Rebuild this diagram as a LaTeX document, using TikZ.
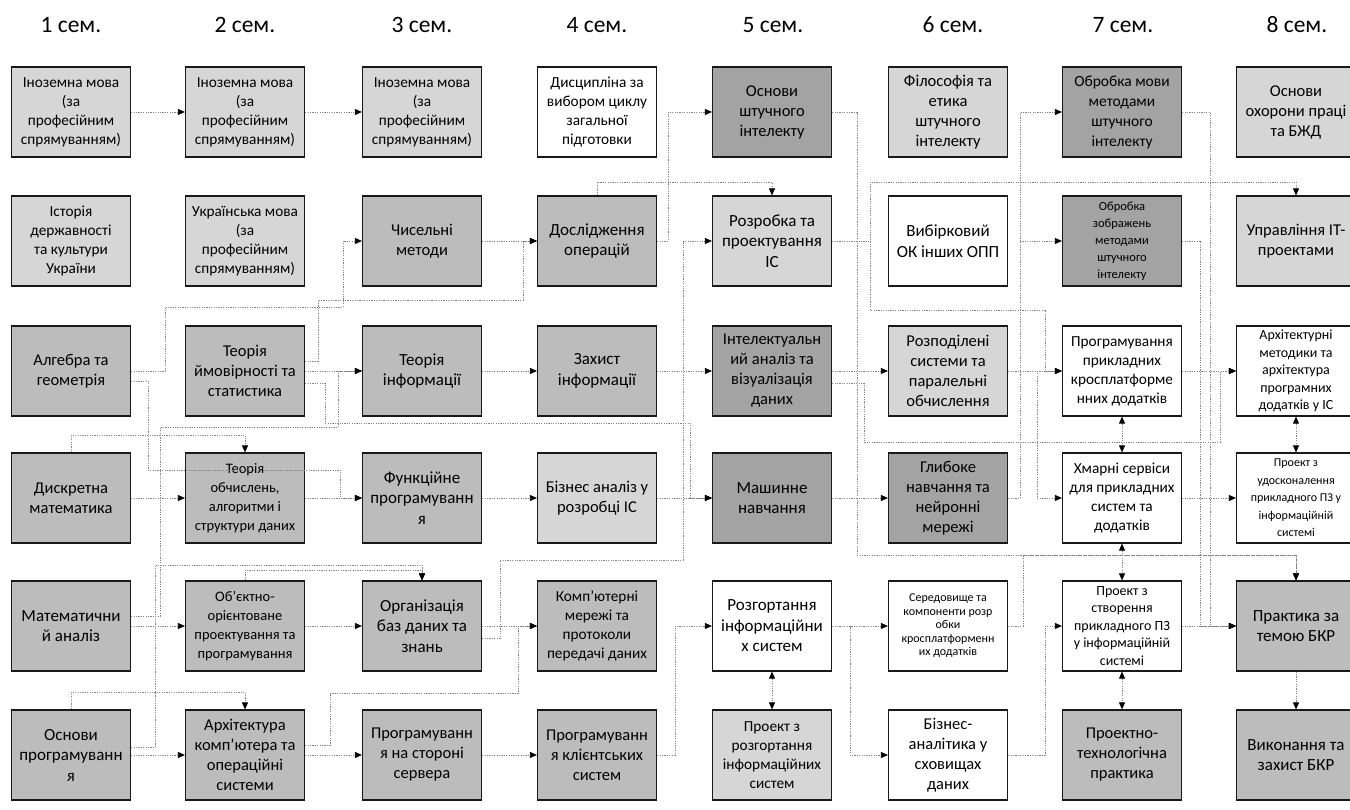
\documentclass[tikz,border=0pt]{standalone}
\usepackage{fontspec}
\setmainfont{Carlito}[Numbers=Lining]
\usetikzlibrary{arrows.meta,calc}
\definecolor{cL}{HTML}{D6D6D6}
\definecolor{cM}{HTML}{BCBCBC}
\definecolor{cD}{HTML}{A3A3A3}
\definecolor{lineg}{HTML}{858585}
\begin{document}
\begin{tikzpicture}[x=1pt,y=-1pt,
  box/.style={draw=black!90, line width=1.2pt, minimum width=119pt, minimum height=90pt, align=center, inner sep=0.5pt, font=\fontsize{15.3}{19}\selectfont},
  fs/.style={font=\fontsize{14.5}{19}\selectfont},
  fa/.style={font=\fontsize{16.5}{20}\selectfont},
  fb/.style={font=\fontsize{17}{20.5}\selectfont},
  fc/.style={font=\fontsize{12}{17.5}\selectfont},
  hdr/.style={font=\fontsize{23.5}{26}\selectfont, anchor=base},
  conn/.style={draw=lineg, line width=0.8pt, dash pattern=on 1.2pt off 1.2pt, -{Triangle[length=7pt,width=6pt,color=black]}},
  bidir/.style={draw=lineg, line width=0.8pt, dash pattern=on 1.2pt off 1.2pt, {Triangle[length=7pt,width=6pt,color=black]}-{Triangle[length=7pt,width=6pt,color=black]}}]
\path[use as bounding box, fill=white] (0,0) rectangle (1350,810);
% headers
\node[hdr] (h1) at (71,33) {1 сем.};
\node[hdr] (h2) at (245,33) {2 сем.};
\node[hdr] (h3) at (422,33) {3 сем.};
\node[hdr] (h4) at (597,33) {4 сем.};
\node[hdr] (h5) at (773,33) {5 сем.};
\node[hdr] (h6) at (953,33) {6 сем.};
\node[hdr] (h7) at (1123,33) {7 сем.};
\node[hdr] (h8) at (1297,33) {8 сем.};
% column 1
\node[box, fill=cL] (im1) at (71,112) {Іноземна мова\\(за\\професійним\\спрямуванням)};
\node[box, fill=cL] (hist) at (71,241) {Історія\\державності\\та культури\\України};
\node[box, fill=cM, fa] (alg) at (71,371) {Алгебра та\\геометрія};
\node[box, fill=cM, fa] (disc) at (71,498) {Дискретна\\математика};
\node[box, fill=cM, fb] (man) at (71,626) {Математични\\й аналіз};
\node[box, fill=cM, fb] (osp) at (71,755) {Основи\\програмуванн\\я};
% column 2
\node[box, fill=cL] (im2) at (245,112) {Іноземна мова\\(за\\професійним\\спрямуванням)};
\node[box, fill=cL] (ukr) at (245,241) {Українська мова\\(за\\професійним\\спрямуванням)};
\node[box, fill=cM, fa] (prob) at (245,371) {Теорія\\ймовірності та\\статистика};
\node[box, fill=cM, fs] (comp) at (245,498) {Теорія\\обчислень,\\алгоритми і\\структури даних};
\node[box, fill=cM, fs] (oop) at (245,626) {Об’єктно-\\орієнтоване\\проектування та\\програмування};
\node[box, fill=cM, fa] (arch) at (245,755) {Архітектура\\комп’ютера та\\операційні\\системи};
% column 3
\node[box, fill=cL] (im3) at (422,112) {Іноземна мова\\(за\\професійним\\спрямуванням)};
\node[box, fill=cM, fa] (num) at (422,241) {Чисельні\\методи};
\node[box, fill=cM, fb] (info) at (422,371) {Теорія\\інформації};
\node[box, fill=cM, fb] (func) at (422,498) {Функційне\\програмуванн\\я};
\node[box, fill=cM, fb] (db) at (422,626) {Організація\\баз даних та\\знань};
\node[box, fill=cM, fa] (srv) at (422,755) {Програмуванн\\я на стороні\\сервера};
% column 4
\node[box, fill=white] (elc) at (597,112) {Дисципліна за\\вибором циклу\\загальної\\підготовки};
\node[box, fill=cM, fb] (ops) at (597,241) {Дослідження\\операцій};
\node[box, fill=cM, fb] (sec) at (597,371) {Захист\\інформації};
\node[box, fill=cL, font=\fontsize{16.5}{20.5}\selectfont] (ba) at (597,498) {Бізнес аналіз у\\розробці ІС};
\node[box, fill=cM] (net) at (597,626) {Комп’ютерні\\мережі та\\протоколи\\передачі даних};
\node[box, fill=cM, fa] (cli) at (597,755) {Програмуванн\\я клієнтських\\систем};
% column 5
\node[box, fill=cD, fa] (ai) at (772,112) {Основи\\штучного\\інтелекту};
\node[box, fill=cL, fb] (dev) at (772,241) {Розробка та\\проектування\\ІС};
\node[box, fill=cD, fa] (ida) at (772,371) {Інтелектуальн\\ий аналіз та\\візуалізація\\даних};
\node[box, fill=cD, fb] (ml) at (772,498) {Машинне\\навчання};
\node[box, fill=white, fb] (depl) at (772,626) {Розгортання\\інформаційни\\х систем};
\node[box, fill=cL] (pdepl) at (772,755) {Проект з\\розгортання\\інформаційних\\систем};
% column 6
\node[box, fill=cL, fa] (phil) at (948,112) {Філософія та\\етика\\штучного\\інтелекту};
\node[box, fill=white, fb] (elect) at (948,241) {Вибірковий\\ОК інших ОПП};
\node[box, fill=cL, fa] (dist) at (948,371) {Розподілені\\системи та\\паралельні\\обчислення};
\node[box, fill=cD, fa] (dl) at (948,498) {Глибоке\\навчання та\\нейронні\\мережі};
\node[box, fill=white, font=\fontsize{12}{13.5}\selectfont] (env) at (948,626) {Середовище та\\компоненти розр\\обки\\кросплатформенн\\их додатків};
\node[box, fill=white, fa] (bia) at (948,755) {Бізнес-\\аналітика у\\сховищах\\даних};
% column 7
\node[box, fill=cD, font=\fontsize{15.5}{20}\selectfont] (nlp) at (1122,112) {Обробка мови\\методами\\штучного\\інтелекту};
\node[box, fill=cD, font=\fontsize{12.5}{17}\selectfont] (img) at (1122,241) {Обробка\\зображень\\методами\\штучного\\інтелекту};
\node[box, fill=white] (xapp) at (1122,371) {Програмування\\прикладних\\кросплатформе\\нних додатків};
\node[box, fill=white] (cloud) at (1122,498) {Хмарні сервіси\\для прикладних\\систем та\\додатків};
\node[box, fill=white, font=\fontsize{14}{17.5}\selectfont] (pcreate) at (1122,626) {Проект з\\створення\\прикладного ПЗ\\у інформаційній\\системі};
\node[box, fill=cM, fa] (ptp) at (1122,755) {Проектно-\\технологічна\\практика};
% column 8
\node[box, fill=cL, fa] (ohs) at (1296,112) {Основи\\охорони праці\\та БЖД};
\node[box, fill=cL, fa] (itpm) at (1296,241) {Управління ІТ-\\проектами};
\node[box, fill=white, font=\fontsize{14}{17.5}\selectfont] (archm) at (1296,371) {Архітектурні\\методики та\\архітектура\\програмних\\додатків у ІС};
\node[box, fill=white, fc] (pimp) at (1296,498) {Проект з\\удосконалення\\прикладного ПЗ у\\інформаційній\\системі};
\node[box, fill=cM, fb] (prac) at (1296,626) {Практика за\\темою БКР};
\node[box, fill=cM, fb] (bkr) at (1296,755) {Виконання та\\захист БКР};
% ---------- connectors ----------
% 1 -> 2
\draw[conn] (im1.east) -- (im2.west);
\draw[conn] (im2.east) -- (im3.west);
\draw[conn] (alg.east) -- (165,371) |- (343,307) |- (num.west);
\draw[conn] (disc.east) -- (comp.west);
\draw[conn] (disc.north) |- (245,435) -- (comp.north);
\draw[conn] (man.east) -- (oop.west);
\draw[conn] (osp.east) -- (arch.west);
\draw[conn] (osp.north) |- (245,692) -- (arch.north);
\draw[conn] ($(osp.east)+(0,-8)$) -| (155,565) -| (db.north);
\draw[conn] ($(alg.east)+(0,10)$) -| (148,470) -| (340,498) -- (func.west);
\draw[conn] ($(man.east)+(0,-10)$) -| (160,427) -| (338,371) -- (info.west);
% 2 -> 3
\draw[conn] (prob.east) -- (info.west);
\draw[conn] (comp.east) -- (func.west);
\draw[conn] (oop.north) |- ($(db.north)+(0,-10)$) -- (db.north);
\draw[conn] (oop.east) -- (db.west);
\draw[conn] (arch.east) -- (srv.west);
\draw[conn] ($(arch.east)+(0,-10)$) -| (330,693) -| (518,626) -- (net.west);
\draw[conn] ($(prob.east)+(0,-10)$) -| (318,300) -| (523,241) -- (ops.west);
% 3 -> 4
\draw[conn] (num.east) -- (ops.west);
\draw[conn] (info.east) -- (sec.west);
\draw[conn] (func.east) -- (ba.west);
\draw[conn] (db.east) -- (net.west);
\draw[conn] (srv.east) -- (cli.west);
% 4 -> 5
\draw[conn] (ops.east) -| (668,112) -- (ai.west);
\draw[conn] (ops.north) |- (772,182) -- (dev.north);
\draw[conn] (sec.east) -- (ida.west);
\draw[conn] (ba.east) -- (ml.west);
\draw[conn] (cli.east) -| (675,626) -- (depl.west);
\draw[conn] ($(db.east)+(0,12)$) -| (500,560) -| (683,241) -- (dev.west);
\draw[conn] ($(prob.east)+(0,12)$) -| (325,423) -| (690,498) -- (ml.west);
% 5 -> 6
\draw[conn] (ida.east) -- (dist.west);
\draw[conn] (ml.east) -- (dl.west);
\draw[conn] (depl.east) -- (env.west);
\draw[conn] (depl.east) -| (850,755) -- (bia.west);
\draw[bidir] (depl.south) -- (pdepl.north);
\draw[conn] (dev.east) -| (870,182) -| (itpm.north);
\draw[conn] (dev.east) -| (870,310) -| (1045,371) -- (xapp.west);
\draw[conn] (ai.east) -| (857,555) -| (prac.north);
\draw[conn] (env.east) -| (1023,555) -| (prac.north);
\draw[conn] ($(ida.east)+(0,12)$) -| (864,442) -| (1220,371) -- (archm.west);
% 6 -> 7
\draw[conn] (dl.east) -| (1020,112) -- (nlp.west);
\draw[conn] (dl.east) -| (1020,241) -- (img.west);
\draw[conn] (dist.east) -- (xapp.west);
\draw[conn] (dist.east) -| (1037,498) -- (cloud.west);
\draw[conn] (bia.east) -| (1045,626) -- (pcreate.west);
\draw[bidir] (xapp.south) -- (cloud.north);
\draw[bidir] (cloud.south) -- (pcreate.north);
\draw[bidir] (pcreate.south) -- (ptp.north);
% 7 -> 8
\draw[conn] (xapp.east) -- (archm.west);
\draw[bidir] (archm.south) -- (pimp.north);
\draw[conn] (cloud.east) -- (pimp.west);
\draw[conn] (nlp.east) -| (1210,626) -- (prac.west);
\draw[conn] (img.east) -| (1200,626) -- (prac.west);
\draw[conn] (pcreate.east) -- (prac.west);
\draw[conn] (prac.south) -- (bkr.north);
\end{tikzpicture}
\end{document}
